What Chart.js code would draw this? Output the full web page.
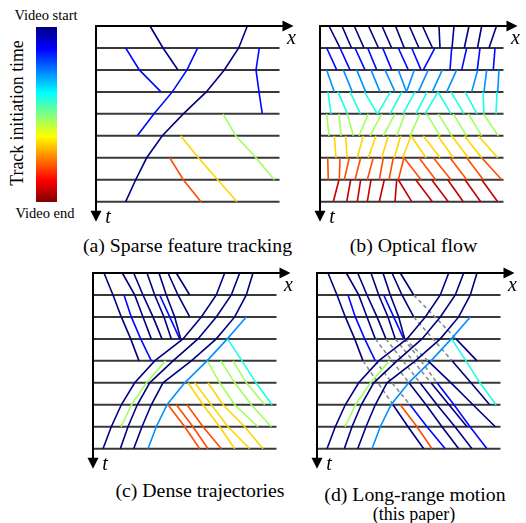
<!DOCTYPE html>
<html lang="en">
<head>
  <meta charset="UTF-8">
  <title>Track initiation time</title>
  <script src="https://cdn.jsdelivr.net/npm/chart.js"></script>
  <style>
    body { margin: 0; background: #fff; font-family: "Liberation Serif", serif; }
    #page { position: relative; width: 526px; height: 523px; overflow: hidden; }
    canvas { position: absolute; }
    .cap { position: absolute; white-space: nowrap; transform: translate(-50%, -50%); font-size: 19.8px; line-height: 1; color: #000; }
    #bar {
      position: absolute; left: 36px; top: 27px; width: 21px; height: 175px;
      background: linear-gradient(to bottom, #000080 0%, #0000ff 12.5%, #00ffff 37.5%, #ffff00 62.5%, #ff0000 87.5%, #800000 100%);
    }
  </style>
</head>
<body>
<div id="page">
  <div id="bar"></div>
  <div class="cap" style="left:46px;top:15px;font-size:14.5px">Video start</div>
  <div class="cap" style="left:45px;top:213px;font-size:14.5px">Video end</div>
  <div class="cap" style="left:18px;top:113px;font-size:17.8px;transform:translate(-50%,-50%) rotate(-90deg)">Track initiation time</div>

  <canvas id="chartA" width="222" height="215" style="left:86px;top:14px"></canvas>
  <canvas id="chartB" width="222" height="215" style="left:310px;top:14px"></canvas>
  <canvas id="chartC" width="222" height="215" style="left:83px;top:261px"></canvas>
  <canvas id="chartD" width="222" height="215" style="left:307px;top:261px"></canvas>

  <div class="cap" style="left:187.5px;top:245.5px">(a) Sparse feature tracking</div>
  <div class="cap" style="left:413.5px;top:245.5px">(b) Optical flow</div>
  <div class="cap" style="left:200px;top:491px">(c) Dense trajectories</div>
  <div class="cap" style="left:415px;top:495px">(d) Long-range motion</div>
  <div class="cap" style="left:414px;top:513.5px;font-size:18px">(this paper)</div>
</div>
<script>
  // time rows (frames) and length of each row line
  const ROWS = [0, 1, 2, 3, 4, 5, 6, 7, 8];
  const ROW_LEN = 183.5;

  // c = initiation frame (colour), t = first frame, x = position per frame
  const sparseTracks = [
    { c: 0, t: 0, x: [54, 67, 82] },
    { c: 0, t: 0, x: [151.3, 142.7, 128.3, 110.3, 87.3, 66.3, 50.7, 39.7, 29.7] },
    { c: 1, t: 1, x: [29.7, 43.3, 65] },
    { c: 1, t: 1, x: [101.7, 91, 76.3, 58, 41.3] },
    { c: 1, t: 1, x: [163.3, 160, 163, 166.3] },
    { c: 4, t: 4, x: [127, 139.7, 160, 178.3] },
    { c: 5, t: 5, x: [84.7, 102.3, 121.7, 141] },
    { c: 6, t: 6, x: [73.7, 87.3, 105] }
  ];

  // optical flow: per frame, [x at frame, x at next frame]
  const flowPairs = [
    [[9, 20], [22, 31.5], [34.3, 44], [48.5, 58.5], [62, 71.7], [75.5, 84.3], [89.3, 99], [102.5, 112.5], [119, 120], [134, 132], [149, 144.3], [161.7, 157.5], [176.5, 169]],
    [[6.7, 16.7], [20, 30], [35, 45], [47.7, 56.7], [62.7, 71.7], [78.3, 88.3], [91.7, 101], [115, 103.3], [131.7, 130], [146.7, 141.7], [160, 157.3], [175, 173.3]],
    [[6.7, 14.3], [23.3, 32.3], [36.7, 45.7], [51, 60], [65, 75], [78.3, 86.5], [94.3, 86.5], [108.3, 98.3], [122.3, 112.3], [136.7, 126.7], [157.7, 151.7], [166.7, 164], [179, 177.7]],
    [[8, 11], [18, 27.5], [30, 40.5], [44.3, 57.5], [70.5, 57.5], [82, 70], [95, 83], [107, 96], [118, 105], [118, 131], [131, 144], [145, 157], [163, 164], [177, 176]],
    [[6.7, 9], [19, 21], [27.3, 33.3], [48.3, 39], [61.7, 50], [75, 63.3], [85, 76.7], [100, 90], [106.7, 120], [118.3, 131.7], [133.3, 146.7], [148.3, 161.7], [163.3, 178.3]],
    [[14.3, 16], [25.7, 27], [43.3, 37.3], [56, 48.3], [68.3, 61.7], [80.7, 74.3], [91, 82.7], [91, 106], [103.3, 120], [117.7, 133.3], [131.7, 148.3], [144.3, 161.7], [158.3, 177.7]],
    [[7.7, 8.3], [20, 19.3], [29.3, 24.3], [40.7, 35], [53.3, 47.3], [63.3, 59.3], [73.3, 69], [84, 78.3], [84, 101], [99, 115.7], [113.3, 131], [130, 146.7], [146.7, 163.3], [161.7, 181.7]],
    [[19, 13.3], [30.7, 26.7], [40.7, 37.3], [51, 47.3], [64.3, 59.3], [76.7, 75], [78.3, 91.7], [95.7, 112.3], [111.7, 128.3], [127.7, 143.3], [145, 160.7], [161.7, 177.7]]
  ];

  const denseTracks = [
    { c: 0, t: 0, x: [11, 20, 28.3, 37.7, 46] },
    { c: 0, t: 0, x: [29.3, 41.7, 50, 58.3] },
    { c: 0, t: 0, x: [40.7, 50, 60, 69] },
    { c: 0, t: 0, x: [54, 61.7, 71, 78.3] },
    { c: 0, t: 0, x: [66, 73.3, 81.7, 87.7] },
    { c: 0, t: 0, x: [75, 85, 96.7] },
    { c: 0, t: 0, x: [83.3, 96.7] },
    { c: 1, t: 1, x: [31, 38.3, 47.7, 58.3] },
    { c: 1, t: 1, x: [66.7, 76.7, 86.7] },
    { c: 0, t: 0, x: [131.7, 123.3, 108.3, 90, 61.7, 41.7, 28.3, 18.3, 10] },
    { c: 0, t: 0, x: [146.7, 138.3, 123.3, 105, 80, 56.7, 44.3, 35, 27.3] },
    { c: 0, t: 0, x: [160, 153.3, 141.7, 123.3, 98.3, 70, 58.3, 49, 40.7] },
    { c: 2, t: 2, x: [153.3, 134.3, 114, 91.7, 74, 63.3, 55] },
    { c: 3, t: 3, x: [134.5, 149, 163, 179] },
    { c: 4, t: 4, x: [72.5, 53.5, 38.5, 28] },
    { c: 4, t: 4, x: [114.3, 126.7, 141.7, 165] },
    { c: 4, t: 4, x: [127.7, 141.7, 158.3, 178.3] },
    { c: 4, t: 4, x: [140, 153.3, 171.7] },
    { c: 5, t: 5, x: [95, 110, 126.7, 141.7] },
    { c: 5, t: 5, x: [101.7, 118.3, 135, 156.7] },
    { c: 5, t: 5, x: [115, 130, 151.7, 170] },
    { c: 6, t: 6, x: [75, 91.7, 106.7] },
    { c: 6, t: 6, x: [83.3, 100, 115] },
    { c: 6, t: 6, x: [94, 110, 128.3] }
  ];

  const longTracks = [
    { c: 0, t: 0, x: [11, 20, 28.3, 37.7, 46] },
    { c: 0, t: 0, x: [29.3, 41.7, 50, 58.3] },
    { c: 0, t: 0, x: [40.7, 50, 60, 69] },
    { c: 0, t: 0, x: [54, 61.7, 71, 78.3] },
    { c: 0, t: 0, x: [66, 73.3, 81.7, 87.7] },
    { c: 0, t: 0, x: [75, 85, 96.7] },
    { c: 0, t: 0, x: [83.3, 96.7] },
    { c: 1, t: 1, x: [31, 38.3, 47.7, 58.3] },
    { c: 1, t: 1, x: [66.7, 76.7, 86.7] },
    { c: 0, t: 6, x: [76, 91, 106.7] },
    { c: 1, t: 6, x: [93, 110, 128.3] },
    { c: 0, t: 5, x: [92, 109, 125, 141.7] },
    { c: 0, t: 5, x: [103, 120, 138, 155] },
    { c: 0, t: 5, x: [114, 132, 150] },
    { c: 1, t: 5, x: [120, 137, 153, 170] },
    { c: 0, t: 4, x: [111, 134, 156, 178.3] },
    { c: 0, t: 4, x: [135, 154, 172.7] },
    { c: 0, t: 3, x: [139, 160] },
    { c: 0, t: 0, x: [131.7, 123.3, 108.3, 90, 61.7, 41.7, 28.3, 18.3, 10] },
    { c: 0, t: 0, x: [146.7, 138.3, 123.3, 105, 80, 56.7, 44.3, 35, 27.3] },
    { c: 0, t: 0, x: [160, 153.3, 141.7, 123.3, 98.3, 70, 58.3, 49, 40.7] },
    { c: 2, t: 2, x: [153.3, 134.3, 114, 91.7, 74, 63.3, 55] },
    { c: 3, t: 3, x: [134.5, 149, 163, 179] },
    { c: 4, t: 4, x: [72.5, 53.5, 38.5, 28] },
    { c: 6, t: 6, x: [83.3, 100, 115] }
  ];

  // occluded parts of long-range tracks (dashed)
  const longHidden = [
    { t: 4, x: [46, 61, 76] },
    { t: 4, x: [58.3, 75, 93] },
    { t: 3, x: [58.3, 75, 92] },
    { t: 3, x: [69, 86, 103] },
    { t: 3, x: [78.3, 96, 114] },
    { t: 3, x: [86.7, 104, 120] },
    { t: 3, x: [87.7, 111] },
    { t: 2, x: [96.7, 116, 135] },
    { t: 1, x: [96.7, 118, 139] }
  ];

  function jet(v) {
    const f = k => Math.round(255 * Math.max(0, Math.min(1, 1.5 - Math.abs(4 * v - k))));
    return `rgb(${f(3)}, ${f(2)}, ${f(1)})`;
  }

  // axes with arrow heads + x / t labels
  const axisArrows = {
    id: 'axisArrows',
    afterDatasetsDraw(chart) {
      const { ctx, chartArea: a } = chart;
      const xTip = a.right + 14, yTip = a.bottom + 20;
      ctx.save();
      ctx.strokeStyle = '#000';
      ctx.fillStyle = '#000';
      ctx.lineWidth = 2;
      ctx.beginPath();
      ctx.moveTo(a.left - 1, a.top);
      ctx.lineTo(xTip - 6, a.top);
      ctx.moveTo(a.left, a.top);
      ctx.lineTo(a.left, yTip - 6);
      ctx.stroke();
      ctx.beginPath();
      ctx.moveTo(xTip, a.top);
      ctx.lineTo(xTip - 11, a.top - 5.5);
      ctx.lineTo(xTip - 11, a.top + 5.5);
      ctx.closePath();
      ctx.fill();
      ctx.beginPath();
      ctx.moveTo(a.left, yTip);
      ctx.lineTo(a.left - 5.5, yTip - 11);
      ctx.lineTo(a.left + 5.5, yTip - 11);
      ctx.closePath();
      ctx.fill();
      ctx.font = 'italic 20px "Liberation Serif"';
      ctx.textAlign = 'center';
      ctx.textBaseline = 'middle';
      ctx.fillText('x', a.right + 12, a.top + 13);
      ctx.fillText('t', a.left + 12, a.bottom + 16);
      ctx.restore();
    }
  };

  function drawPanel(id, tracks, hidden) {
    const datasets = [];
    ROWS.forEach(r => datasets.push({
      data: [{ x: 0, y: r }, { x: ROW_LEN, y: r }],
      borderColor: '#383838', borderWidth: 2, order: 3
    }));
    hidden.forEach(h => datasets.push({
      data: h.x.map((v, i) => ({ x: v, y: h.t + i })),
      borderColor: '#8c8c8c', borderWidth: 1.6, borderDash: [4, 3], order: 2
    }));
    tracks.forEach(tr => datasets.push({
      data: tr.x.map((v, i) => ({ x: v, y: tr.t + i })),
      borderColor: jet(tr.c / 7.5), borderWidth: 1.6, order: 1
    }));
    datasets.forEach(d => { d.showLine = true; d.pointRadius = 0; d.clip = false; d.tension = 0; });

    new Chart(document.getElementById(id), {
      type: 'scatter',
      data: { datasets },
      options: {
        responsive: false,
        animation: false,
        events: [],
        layout: { padding: { left: 10, top: 12, right: 28.5, bottom: 27.3 } },
        plugins: { legend: { display: false }, tooltip: { enabled: false } },
        scales: {
          x: { display: false, min: 0, max: ROW_LEN },
          y: { display: false, min: 0, max: 8, reverse: true }
        }
      },
      plugins: [axisArrows]
    });
  }

  const flowTracks = [];
  flowPairs.forEach((row, r) => row.forEach(p => flowTracks.push({ c: r, t: r, x: p })));

  drawPanel('chartA', sparseTracks, []);
  drawPanel('chartB', flowTracks, []);
  drawPanel('chartC', denseTracks, []);
  drawPanel('chartD', longTracks, longHidden);
</script>
</body>
</html>
